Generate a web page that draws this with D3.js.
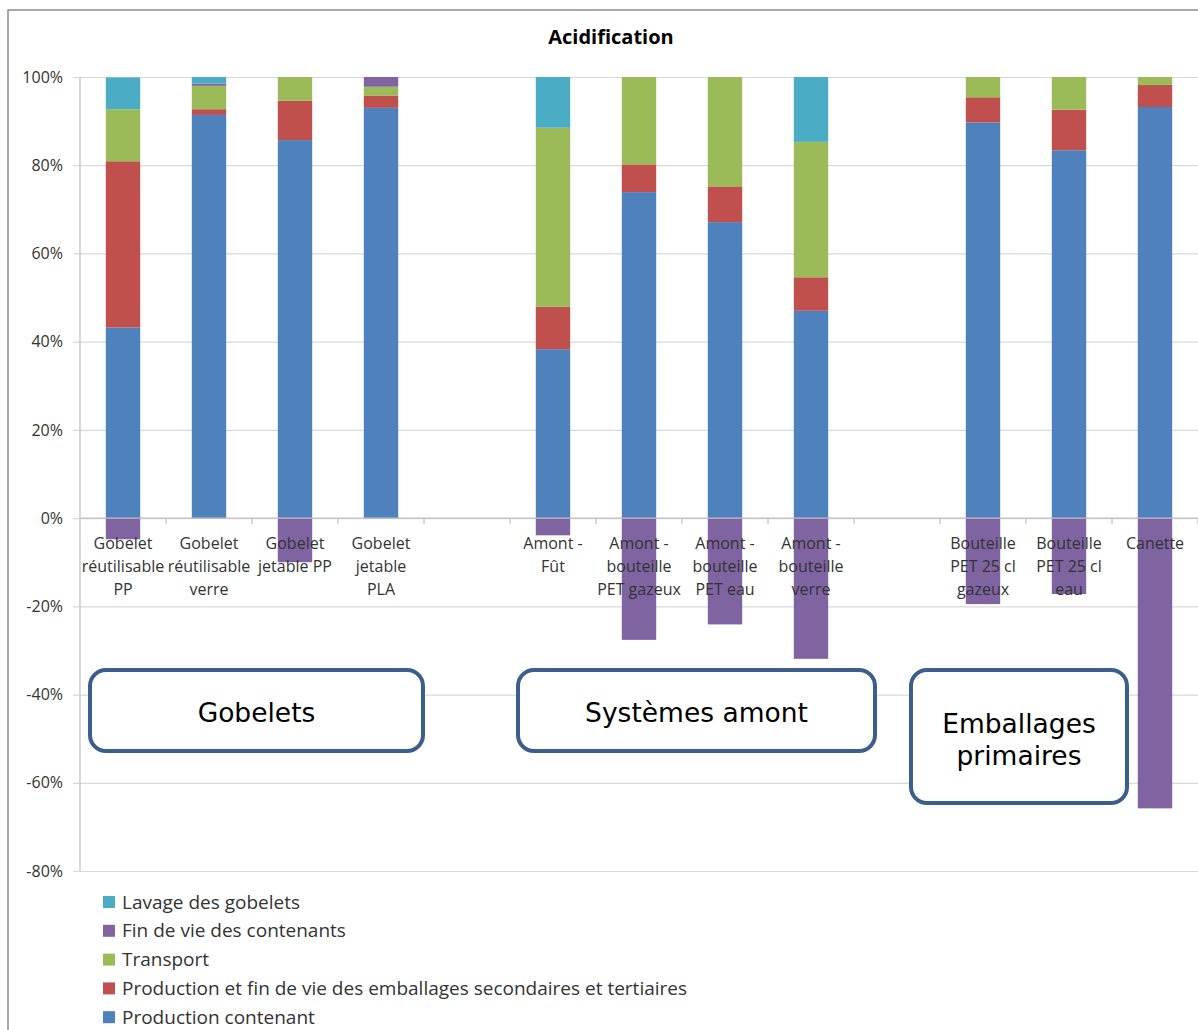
<!DOCTYPE html>
<html><head><meta charset="utf-8">
<script src="https://cdn.jsdelivr.net/npm/d3@7"></script>
<style>
html,body{margin:0;padding:0;background:#fff;}
svg{display:block;}
</style>
</head><body>
<svg id="chart" width="1198" height="1030"></svg>
<script>
// ---- data ----
const categories = [
  "Gobelet|réutilisable|PP", "Gobelet|réutilisable|verre", "Gobelet|jetable PP", "Gobelet|jetable|PLA",
  "",
  "Amont -|Fût", "Amont -|bouteille|PET gazeux", "Amont -|bouteille|PET eau", "Amont -|bouteille|verre",
  "",
  "Bouteille|PET 25 cl|gazeux", "Bouteille|PET 25 cl|eau", "Canette"
];
const seriesNames = ["Production contenant", "Production et fin de vie des emballages secondaires et tertiaires", "Transport", "Fin de vie des contenants", "Lavage des gobelets"];
const productionContenant = [43.2, 91.4, 85.7, 93.0, 0, 38.3, 73.9, 67.1, 47.0, 0, 89.7, 83.4, 93.2];
const productionEmballages = [37.7, 1.3, 8.9, 2.8, 0, 9.6, 6.3, 8.1, 7.6, 0, 5.7, 9.2, 5.0];
const transport = [11.8, 5.3, 5.4, 2.0, 0, 40.6, 19.8, 24.8, 30.7, 0, 4.6, 7.4, 1.8];
const finDeVie = [-4.8, 0.5, -10.0, 2.2, 0, -3.9, -27.6, -24.1, -31.9, 0, -19.5, -17.2, -65.8];
const lavage = [7.2, 1.5, 0, 0, 0, 11.5, 0, 0, 14.7, 0, 0, 0, 0];
const yTicks = [-80, -60, -40, -20, 0, 20, 40, 60, 80, 100];
const legendOrder = ["Lavage des gobelets", "Fin de vie des contenants", "Transport", "Production et fin de vie des emballages secondaires et tertiaires", "Production contenant"];
const colors = ["#4f81bd", "#c0504d", "#9bbb59", "#8064a2", "#4bacc6"];
const annotations = [
  {lines: ["Gobelets"], x0: 90, x1: 423},
  {lines: ["Systèmes amont"], x0: 518, x1: 875},
  {lines: ["Emballages", "primaires"], x0: 911, x1: 1127}
];

// ---- build ----
const seriesArrays = [productionContenant, productionEmballages, transport, finDeVie, lavage];
const table = categories.map((c, i) => {
  const o = {idx: i, label: c};
  seriesNames.forEach((s, k) => o[s] = seriesArrays[k][i]);
  return o;
});
const color = d3.scaleOrdinal().domain(seriesNames).range(colors);
const FONT = "'Open Sans', Lato, 'Liberation Sans', sans-serif";

const svg = d3.select("#chart");
const mLeft = 80, mRight = 1198, mTop = 77, mBottom = 871;
const x = d3.scaleBand().domain(categories.map((c, i) => i)).range([mLeft, mRight]).paddingInner(0.6).paddingOuter(0.3);
const xSlot = d3.scaleBand().domain(categories.map((c, i) => i)).range([mLeft, mRight]);
const y = d3.scaleLinear().domain([-80, 100]).range([mBottom, mTop]);

// outer border
svg.append("rect").attr("x", 8).attr("y", 10).attr("width", 1300).attr("height", 1100)
  .attr("fill", "#fff").attr("stroke", "#8c8c8c").attr("stroke-width", 1.5);

// title
svg.append("text").attr("x", 611).attr("y", 44).attr("text-anchor", "middle")
  .attr("font-family", FONT).attr("font-weight", "bold")
  .attr("font-size", 20).attr("fill", "#000").text("Acidification");

// gridlines + y axis
const yAxis = d3.axisLeft(y).tickValues(yTicks).tickFormat(d => d + "%").tickSize(-(mRight - mLeft)).tickPadding(17);
const gy = svg.append("g").attr("transform", `translate(${mLeft},0)`).call(yAxis);
gy.select(".domain").remove();
gy.selectAll(".tick line").attr("stroke", "#d9d9d9").attr("stroke-width", 1.2).attr("x1", -7);
gy.selectAll(".tick text").attr("font-family", FONT).attr("font-size", 16).attr("fill", "#333");
svg.append("line").attr("x1", mLeft).attr("x2", mLeft).attr("y1", mTop).attr("y2", mBottom)
  .attr("stroke", "#bfbfbf").attr("stroke-width", 1.2);

// bars
const stack = d3.stack().keys(seriesNames).offset(d3.stackOffsetDiverging);
const stacked = stack(table);
svg.append("g").selectAll("g").data(stacked).join("g").attr("fill", d => color(d.key))
  .selectAll("rect").data(d => d).join("rect")
  .attr("x", d => x(d.data.idx)).attr("width", x.bandwidth())
  .attr("y", d => y(Math.max(d[0], d[1])))
  .attr("height", d => Math.abs(y(d[0]) - y(d[1])));

// x axis line at 0 with ticks between categories
svg.append("line").attr("x1", mLeft).attr("x2", mRight).attr("y1", y(0)).attr("y2", y(0))
  .attr("stroke", "#bfbfbf").attr("stroke-width", 1.2);
svg.append("g").selectAll("line").data(categories.map((c, i) => i)).join("line")
  .attr("x1", d => xSlot(d) + xSlot.bandwidth()).attr("x2", d => xSlot(d) + xSlot.bandwidth())
  .attr("y1", y(0)).attr("y2", y(0) + 6).attr("stroke", "#bfbfbf").attr("stroke-width", 1.2);

// category labels
const lab = svg.append("g").selectAll("text").data(categories.map((c, i) => ({c, i}))).join("text")
  .attr("text-anchor", "middle").attr("font-family", FONT)
  .attr("font-size", 16).attr("fill", "#333")
  .attr("x", d => xSlot(d.i) + xSlot.bandwidth() / 2).attr("y", 549);
lab.each(function(d) {
  const t = d3.select(this);
  d.c.split("|").filter(s => s).forEach((line, k) => {
    t.append("tspan").attr("x", xSlot(d.i) + xSlot.bandwidth() / 2).attr("dy", k === 0 ? 0 : 23).text(line);
  });
});

// annotation boxes
annotations.forEach(a => {
  const h = a.lines.length === 1 ? 81 : 133;
  const g = svg.append("g");
  g.append("rect").attr("x", a.x0).attr("y", 670).attr("width", a.x1 - a.x0).attr("height", h)
    .attr("rx", 16).attr("ry", 16).attr("fill", "#fff").attr("stroke", "#3b5e8c").attr("stroke-width", 4);
  const cx = (a.x0 + a.x1) / 2;
  const t = g.append("text").attr("text-anchor", "middle").attr("font-family", "Verdana, 'DejaVu Sans', sans-serif")
    .attr("font-size", 26.5).attr("fill", "#000");
  a.lines.forEach((l, k) => {
    t.append("tspan").attr("x", cx).attr("y", (a.lines.length === 1 ? 722 : 733) + k * 32).text(l);
  });
});

// legend
const lg = svg.append("g").selectAll("g").data(legendOrder).join("g")
  .attr("transform", (d, i) => `translate(103, ${902 + i * 28.8})`);
lg.append("rect").attr("x", 0).attr("y", -6).attr("width", 12).attr("height", 12).attr("fill", d => color(d));
lg.append("text").attr("x", 19).attr("y", 6.5).attr("font-family", FONT)
  .attr("font-size", 19).attr("fill", "#333").text(d => d);
</script>
</body></html>
